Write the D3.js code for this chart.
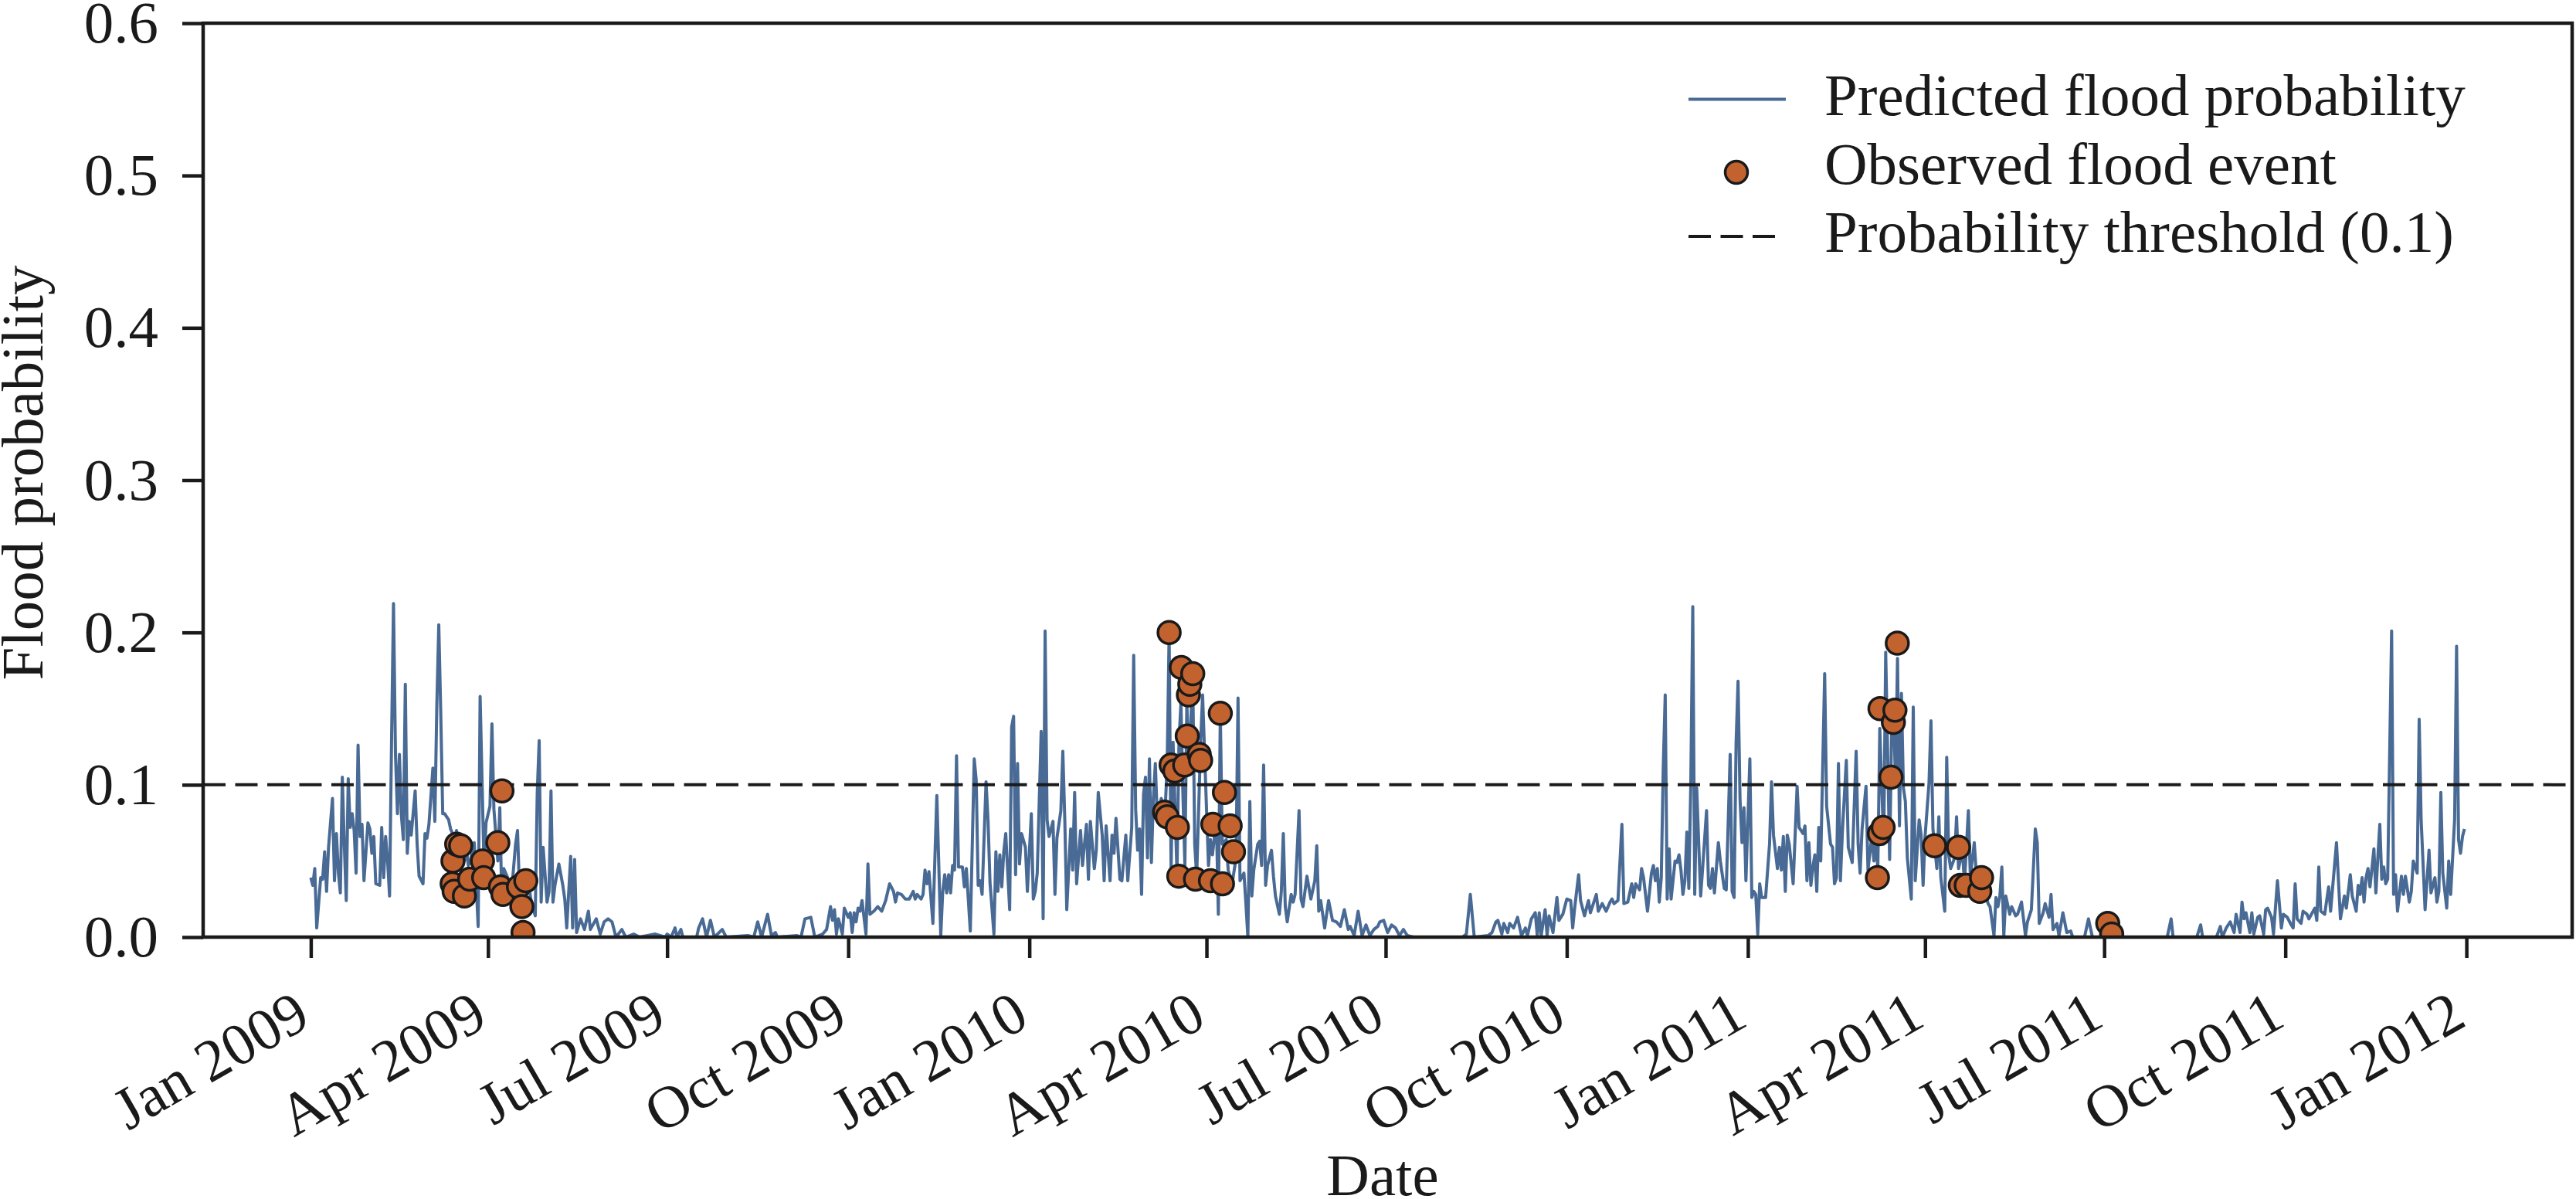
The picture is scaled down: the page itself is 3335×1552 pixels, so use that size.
<!DOCTYPE html>
<html>
<head>
<meta charset="utf-8">
<script src="https://cdn.jsdelivr.net/npm/d3@7"></script>
<style>
  body { margin: 0; background: #fff; }
  text { font-family: "Liberation Serif", "Times New Roman", serif; fill: #1a1a1a; }
</style>
</head>
<body>
<svg id="chart" width="3335" height="1552"></svg>
<script>
// day offsets are counted from 2009-01-01
const startDay = Date.UTC(2009, 0, 1);

const predicted2009 = [
[0,.039],[1,.034],[2,.045],[3,.006],[5,.039],[6,.038],[7,.056],[8,.030],[9,.059],[11,.091],[12,.037],[13,.068],[14,.042],[15,.029],[16,.105],[17,.061],[18,.024],[19,.104],[20,.072],[21,.081],[22,.070],[23,.042],[24,.126],[25,.066],[26,.074],[27,.037],[29,.075],[30,.071],[31,.055],[32,.066],[33,.035],[35,.034],[36,.072],[37,.039],[38,.066],[39,.050],[40,.027],[41,.128],[42,.219],[43,.120],[44,.081],[45,.120],[46,.080],[47,.064],[48,.166],[49,.055],[50,.076],[51,.067],[53,.096],[54,.061],[55,.040],[57,.035],[58,.068],[59,.065],[60,.074],[62,.111],[63,.076],[64,.152],[65,.205],[66,.147],[67,.081],[68,.081],[70,.077],[71,.071],[72,.068],[73,.059],[74,.070],[75,.061],[76,.045],[77,.064],[78,.050],[79,.058],[80,.047],[81,.050],[83,.062],[85,.007],[86,.158],[88,.045],[89,.075],[91,.086],[92,.140],[93,.084],[95,.050],[96,.085],[97,.025],[98,.045],[100,.039],[102,.030],[104,.061],[105,.070],[106,.030],[108,.027],[110,.040],[112,.023],[114,.014],[115,.094],[116,.129],[117,.023],[118,.059],[120,.023],[121,.030],[122,.096],[123,.023],[124,.034],[126,.048],[128,.034],[129,.025],[130,.006],[132,.053],[133,.006],[134,.051],[135,.003],[137,.012],[139,.005],[141,.017],[142,.005],[145,.012],[147,.002],[149,.010],[151,.012],[153,.010],[155,0],[158,.005],[160,0],[164,.002],[167,0],[175,.002],[180,0],
[181,.002],[183,0],[185,.006],[186,0],[188,.005],[189,0],[196,0],[197,.006],[199,.012],[201,0],[203,.011],[205,0],[209,.005],[211,0],[222,.001],[225,0],[227,.010],[229,0],[232,.015],[234,.001],[236,.003],[237,0],[247,.001],[249,0],[251,.012],[254,.013],[256,0],[260,.002],[262,.005],[264,.020],[265,.011],[266,.018],[267,.002],[268,.012],[270,.002],[271,.019],[273,.013],[274,.016],[275,.003],[276,.016],[277,.010],[278,.019],[279,.017],[280,.024],[282,.002],[283,.048],[284,.015],[286,.017],[288,.020],[290,.017],[292,.024],[294,.035],[296,.030],[297,.023],[298,.029],[300,.028],[302,.025],[304,.025],[306,.030],[307,.025],[308,.028],[310,.025],[311,.028],[312,.044],[313,.035],[314,.043],[316,.009],[318,.093],[320,.001],[321,.030],[322,.041],[323,.029],[324,.041],[325,.029],[326,.047],[327,.044],[328,.119],[329,.046],[331,.046],[332,.033],[333,.045],[335,.004],[337,.117],[338,.103],[339,.034],[340,.037],[341,.028],[343,.102],[344,.077],[345,.036],[347,.002],[348,.056],[349,.030],[350,.054],[351,.033],[352,.056],[353,.068],[355,.018],[356,.138],[357,.145],[358,.041],[359,.114],[360,.048],[361,.068],[363,.059],[364,.030]
];

const predicted2010 = [
[366,.081],[367,.025],[368,.030],[369,.042],[371,.135],[372,.012],[373,.201],[374,.077],[375,.066],[377,.076],[378,.028],[379,.065],[381,.083],[382,.122],[383,.077],[384,.018],[386,.071],[387,.044],[388,.095],[389,.035],[391,.070],[392,.047],[393,.061],[394,.074],[395,.038],[396,.076],[398,.045],[399,.057],[400,.095],[402,.067],[403,.037],[404,.073],[406,.037],[407,.067],[408,.055],[409,.078],[411,.038],[412,.037],[414,.067],[415,.037],[417,.072],[418,.185],[419,.084],[420,.057],[421,.071],[422,.028],[423,.094],[424,.105],[425,.052],[426,.117],[427,.049],[428,.091],[429,.114],[430,.077],[432,.091],[434,.084],[435,.113],[436,.199],[437,.044],[438,.128],[440,.042],[441,.128],[442,.154],[443,.094],[444,.047],[445,.154],[446,.111],[448,.172],[449,.061],[450,.040],[452,.128],[453,.159],[455,.084],[456,.047],[457,.064],[458,.054],[460,.077],[461,.015],[462,.147],[463,.061],[465,.064],[466,.044],[468,.035],[470,.052],[471,.157],[472,.037],[474,.042],[475,.022],[476,0],[477,.089],[478,.027],[479,.044],[481,.061],[482,.063],[483,.047],[484,.113],[485,.034],[486,.047],[488,.057],[489,.040],[490,.027],[492,.015],[493,.030],[494,.068],[495,.020],[496,.010],[498,.028],[499,.023],[500,.028],[502,.083],[503,.025],[504,.020],[506,.040],[508,.025],[510,.037],[511,.060],[512,.017],[513,.024],[515,.006],[517,.024],[519,.011],[521,.010],[523,.007],[525,.018],[527,.005],[528,.007],[530,.001],[532,.017],[534,.001],[536,.008],[538,.001],[540,.005],[542,.007],[543,.010],[545,.011],[547,.003],[549,.008],[551,.006],[553,.001],[555,.005],[557,.001],
[560,0],[585,0],[587,.002],[589,.028],[591,0],[598,.001],[600,.003],[602,.010],[603,.011],[605,.002],[606,.009],[608,.003],[609,.009],[611,.006],[613,.013],[615,.001],[617,.006],[618,.001],[620,.012],[622,.016],[623,.001],[624,.016],[625,.001],[627,.018],[628,.001],[629,.014],[631,.003],[633,.026],[634,.011],[636,.015],[638,.025],[640,.024],[641,.006],[642,.019],[644,.041],[645,.024],[647,.014],[649,.024],[650,.016],[653,.028],[654,.017],[656,.022],[658,.017],[660,.023],[661,.025],[662,.022],[664,.024],[666,.074],[667,.022],[669,.023],[671,.035],[672,.026],[673,.035],[675,.031],[676,.045],[677,.039],[679,.017],[681,.042],[682,.047],[683,.037],[684,.045],[685,.023],[686,.039],[687,.111],[688,.159],[689,.025],[690,.058],[691,.025],[693,.050],[694,.049],[695,.054],[696,.044],[697,.028],[698,.037],[699,.069],[700,.032],[701,.101],[702,.217],[703,.028],[704,.098],[706,.027],[707,.045],[709,.083],[710,.034],[711,.032],[712,.045],[713,.029],[715,.062],[716,.050],[718,.032],[719,.031],[721,.120],[722,.030],[723,.026],[724,.127],[725,.168],[726,.091],[727,.062],[728,.085],[729,.037]
];

const predicted2011 = [
[731,.117],[732,.026],[733,.030],[734,.028],[735,.002],[736,.035],[737,.026],[739,.026],[741,.061],[742,.102],[743,.067],[745,.045],[746,.059],[747,.044],[748,.066],[749,.030],[750,.067],[751,.061],[753,.035],[755,.099],[756,.072],[758,.068],[759,.073],[760,.037],[761,.062],[762,.034],[763,.046],[764,.054],[765,.030],[766,.072],[767,.050],[769,.173],[770,.086],[772,.061],[773,.059],[774,.035],[775,.039],[776,.114],[777,.037],[778,.069],[780,.116],[781,.059],[783,.049],[785,.122],[786,.061],[787,.042],[788,.071],[790,.099],[791,.044],[793,.067],[794,.050],[795,.061],[796,.045],[797,.137],[799,.061],[800,.187],[801,.121],[802,.051],[803,.133],[804,.149],[805,.101],[806,.183],[807,.073],[808,.160],[809,.098],[810,.089],[811,.052],[813,.025],[814,.151],[815,.037],[817,.077],[818,.067],[819,.034],[820,.066],[822,.101],[823,.142],[824,.071],[826,.045],[827,.079],[828,.039],[830,.017],[831,.118],[832,.054],[833,.045],[835,.052],[836,.079],[837,.045],[839,.057],[840,.035],[842,.083],[843,.040],[845,.062],[846,.042],[848,.028],[850,.032],[852,.022],[853,.020],[855,.001],[856,.026],[857,.020],[858,.027],[859,.046],[860,.001],[861,.027],[863,.015],[864,.020],[866,.014],[867,.015],[869,.023],[871,.001],[872,.010],[874,.018],[876,.071],[877,.062],[878,.009],[880,.016],[881,.022],[883,.013],[884,.028],[885,.005],[887,.009],[888,.001],[889,.008],[890,.016],[892,.003],[894,.004],[895,0],[901,0],[903,.012],[905,0],
[943,0],[945,.012],[946,0],[958,0],[960,.008],[961,0],[968,0],[970,.007],[971,0],[973,.006],[975,.010],[977,.003],[978,.015],[980,.003],[981,.023],[982,.012],[983,.016],[985,.003],[986,.016],[987,.002],[989,.013],[990,.014],[992,.002],[993,.018],[994,.019],[996,.013],[997,.002],[999,.037],[1001,.006],[1002,.015],[1004,.013],[1006,.008],[1007,.006],[1008,.035],[1009,.012],[1011,.009],[1012,.017],[1014,.015],[1015,.012],[1018,.019],[1019,.011],[1020,.046],[1021,.017],[1023,.015],[1025,.033],[1026,.017],[1029,.062],[1031,.012],[1033,.027],[1034,.019],[1036,.041],[1037,.027],[1039,.017],[1040,.034],[1041,.028],[1042,.039],[1043,.023],[1044,.039],[1045,.045],[1046,.033],[1047,.045],[1048,.058],[1049,.029],[1050,.052],[1051,.074],[1052,.038],[1053,.046],[1054,.035],[1055,.038],[1057,.201],[1058,.028],[1059,.041],[1060,.017],[1062,.040],[1063,.028],[1064,.040],[1066,.023],[1067,.030],[1068,.050],[1070,.042],[1071,.143],[1072,.077],[1074,.018],[1076,.057],[1077,.029],[1079,.039],[1080,.023],[1081,.030],[1082,.095],[1083,.042],[1085,.019],[1086,.050],[1087,.028],[1089,.077],[1090,.191],[1091,.064],[1092,.055],[1093,.066],[1094,.071]
];

// observed flood events (day offset, predicted probability on that day)
const observedDays = [71.8,72.2,72.8,74.1,76.1,78.0,80.7,87.2,87.8,95.0,96.3,97.1,97.6,105.5,107.2,107.8,109.2,
  433.7,435.0,436.0,437.0,438.9,440.2,440.9,442.2,443.9,445.2,445.8,446.5,448.0,449.4,451.3,452.0,457.0,458.2,462.0,463.1,464.1,467.0,468.7,
  795.8,796.8,797.1,798.7,802.7,803.9,804.7,805.9,824.8,837.0,837.9,840.9,847.8,848.7,912.8,914.8];
const observedProb = [.035,.050,.030,.061,.060,.027,.038,.050,.039,.062,.033,.096,.028,.033,.020,.003,.037,
  .082,.079,.200,.113,.109,.072,.040,.177,.113,.132,.159,.166,.173,.038,.120,.116,.037,.074,.147,.035,.095,.073,.056,
  .039,.068,.150,.072,.105,.141,.149,.193,.060,.059,.034,.034,.030,.039,.009,.002];

const threshold = 0.1;
const yTicks = [0, 0.1, 0.2, 0.3, 0.4, 0.5, 0.6];
const legendLabels = ["Predicted flood probability", "Observed flood event", "Probability threshold (0.1)"];

const toDate = d => new Date(startDay + d * 864e5);
const predicted = predicted2009.concat(predicted2010, predicted2011).map(([d, v]) => ({date: toDate(d), value: v}));
const observed = observedDays.map((d, i) => ({date: toDate(d), value: observedProb[i]}));

const blue = "#486a94", orange = "#c2632f", ink = "#1a1a1a";
const svg = d3.select("#chart");
const margin = {left: 263, right: 3330, top: 30, bottom: 1213};

// matplotlib-like 5% margin on the time axis
const [t0, t1] = d3.extent(predicted, d => d.date);
const pad = (t1 - t0) * 0.05;
const x = d3.scaleUtc()
  .domain([new Date(+t0 - pad), new Date(+t1 + pad)])
  .range([margin.left, margin.right]);
const y = d3.scaleLinear()
  .domain([0, 0.6])
  .range([margin.bottom, margin.top]);

svg.append("clipPath").attr("id", "plot-clip")
  .append("rect")
    .attr("x", margin.left).attr("y", margin.top)
    .attr("width", margin.right - margin.left)
    .attr("height", margin.bottom - margin.top);

const plot = svg.append("g").attr("clip-path", "url(#plot-clip)");

plot.append("path")
  .datum(predicted)
  .attr("fill", "none")
  .attr("stroke", blue)
  .attr("stroke-width", 4)
  .attr("stroke-linejoin", "round")
  .attr("d", d3.line().x(d => x(d.date)).y(d => y(d.value)));

plot.append("line")
  .attr("x1", margin.left).attr("x2", margin.right)
  .attr("y1", y(threshold)).attr("y2", y(threshold))
  .attr("stroke", ink)
  .attr("stroke-width", 4)
  .attr("stroke-dasharray", "29 12.5");

plot.selectAll("circle")
  .data(observed)
  .join("circle")
    .attr("cx", d => x(d.date))
    .attr("cy", d => y(d.value))
    .attr("r", 14.5)
    .attr("fill", orange)
    .attr("stroke", ink)
    .attr("stroke-width", 3.5);

// axes
const fontSize = 77;
const yAxis = svg.append("g")
  .attr("transform", `translate(${margin.left},0)`)
  .call(d3.axisLeft(y).tickValues(yTicks).tickFormat(d3.format(".1f")).tickSize(27).tickPadding(31));

const xTicks = d3.utcMonth.range(new Date(Date.UTC(2009, 0, 1)), new Date(Date.UTC(2012, 0, 2)), 3);
const xAxis = svg.append("g")
  .attr("transform", `translate(0,${margin.bottom})`)
  .call(d3.axisBottom(x).tickValues(xTicks).tickFormat(d3.utcFormat("%b %Y")).tickSize(27));

xAxis.selectAll(".tick text")
  .attr("x", 0).attr("y", 0).attr("dy", null)
  .attr("text-anchor", "end")
  .attr("transform", "translate(2,113) rotate(-30)");

[xAxis, yAxis].forEach(g => {
  g.select(".domain").remove();
  g.selectAll(".tick line").attr("stroke", ink).attr("stroke-width", 4.5);
  g.selectAll(".tick text").style("font-size", fontSize + "px")
    .style("font-family", '"Liberation Serif", "Times New Roman", serif').attr("fill", ink);
});

svg.append("rect")
  .attr("x", margin.left).attr("y", margin.top)
  .attr("width", margin.right - margin.left)
  .attr("height", margin.bottom - margin.top)
  .attr("fill", "none")
  .attr("stroke", ink)
  .attr("stroke-width", 4.5);

svg.append("text")
  .attr("transform", "translate(55,612) rotate(-90)")
  .attr("text-anchor", "middle")
  .style("font-size", fontSize + "px")
  .text("Flood probability");

svg.append("text")
  .attr("x", 1790).attr("y", 1547)
  .attr("text-anchor", "middle")
  .style("font-size", fontSize + "px")
  .text("Date");

// legend
const legend = svg.append("g").attr("transform", "translate(2186,0)");
legend.append("line")
  .attr("x1", 0).attr("x2", 126).attr("y1", 128.5).attr("y2", 128.5)
  .attr("stroke", blue).attr("stroke-width", 4);
legend.append("circle")
  .attr("cx", 62).attr("cy", 223).attr("r", 14.5)
  .attr("fill", orange).attr("stroke", ink).attr("stroke-width", 3.5);
legend.append("line")
  .attr("x1", 0).attr("x2", 120).attr("y1", 306).attr("y2", 306)
  .attr("stroke", ink).attr("stroke-width", 4).attr("stroke-dasharray", "29 12.5");
legend.selectAll("text.label")
  .data(legendLabels)
  .join("text")
    .attr("class", "label")
    .attr("x", 176)
    .attr("y", (d, i) => 149 + i * 88.5)
    .style("font-size", fontSize + "px")
    .text(d => d);
</script>
</body>
</html>
